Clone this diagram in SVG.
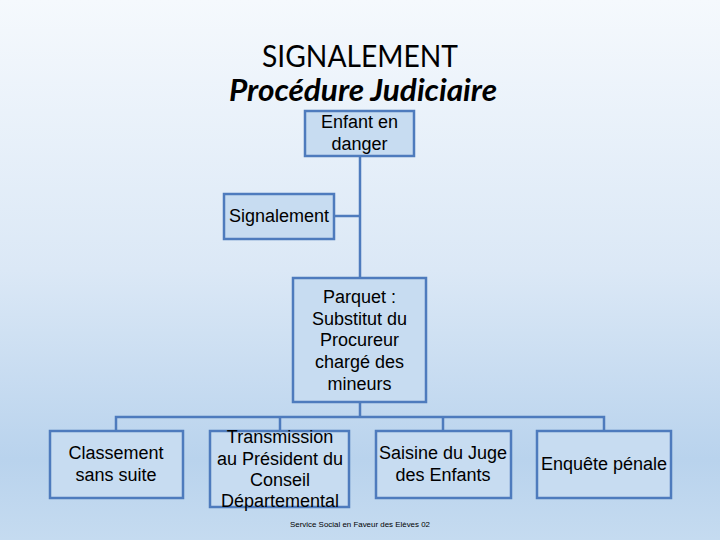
<svg xmlns="http://www.w3.org/2000/svg" width="720" height="540" viewBox="0 0 720 540">
<defs>
<linearGradient id="bg" x1="0" y1="0" x2="0" y2="1">
<stop offset="0" stop-color="#f5f9fd"/>
<stop offset="0.5" stop-color="#dbe8f6"/>
<stop offset="0.85" stop-color="#b9d3ed"/>
<stop offset="1" stop-color="#c5dbf0"/>
</linearGradient>
<style>
.box{fill:#c7dcf1;stroke:#4e7bbd;stroke-width:2.5}
.t{font-family:"Liberation Sans",Arial,sans-serif;font-size:18px;fill:#000;text-anchor:middle}
.c{fill:none;stroke:#4e7bbd;stroke-width:2.5}
.title{font-family:Lato,"Open Sans",sans-serif;fill:#000;text-anchor:middle}
</style>
</defs>
<rect width="720" height="540" fill="url(#bg)"/>
<text class="title" x="360" y="67" font-size="31" textLength="196" lengthAdjust="spacingAndGlyphs">SIGNALEMENT</text>
<text class="title" x="363" y="101" font-size="30" font-style="italic" font-weight="bold" textLength="268" lengthAdjust="spacingAndGlyphs">Procédure Judiciaire</text>
<g id="connectors">
<path class="c" d="M360 156V278"/>
<path class="c" d="M334 216H360"/>
<path class="c" d="M360 402V417"/>
<path class="c" d="M116 431V417H604V431"/>
<path class="c" d="M280 417V431"/>
<path class="c" d="M443 417V431"/>
</g>
<g id="enfant">
<rect class="box" x="305" y="111" width="109" height="45"/>
<text class="t" x="359.5" y="128">Enfant en</text>
<text class="t" x="359.5" y="150">danger</text>
</g>
<g id="signalement">
<rect class="box" x="224" y="194" width="110" height="45"/>
<text class="t" x="279" y="222">Signalement</text>
</g>
<g id="parquet">
<rect class="box" x="293" y="278" width="133" height="124"/>
<text class="t" x="359.5" y="303">Parquet :</text>
<text class="t" x="359.5" y="325">Substitut du</text>
<text class="t" x="359.5" y="346">Procureur</text>
<text class="t" x="359.5" y="368">chargé des</text>
<text class="t" x="359.5" y="390">mineurs</text>
</g>
<g id="classement">
<rect class="box" x="50" y="431" width="133" height="67"/>
<text class="t" x="116" y="459">Classement</text>
<text class="t" x="116" y="481">sans suite</text>
</g>
<g id="transmission">
<rect class="box" x="210" y="431" width="139" height="76"/>
<text class="t" x="280" y="443">Transmission</text>
<text class="t" x="280" y="465">au Président du</text>
<text class="t" x="280" y="486">Conseil</text>
<text class="t" x="280" y="507">Départemental</text>
</g>
<g id="saisine">
<rect class="box" x="376" y="431" width="135" height="67"/>
<text class="t" x="443" y="459">Saisine du Juge</text>
<text class="t" x="443" y="481">des Enfants</text>
</g>
<g id="enquete">
<rect class="box" x="537" y="431" width="134" height="67"/>
<text class="t" x="604" y="470">Enquête pénale</text>
</g>
<text x="360" y="527" font-family="'Liberation Sans',Arial,sans-serif" font-size="8" text-anchor="middle" fill="#000" textLength="140" lengthAdjust="spacingAndGlyphs">Service Social en Faveur des Elèves 02</text>
</svg>
